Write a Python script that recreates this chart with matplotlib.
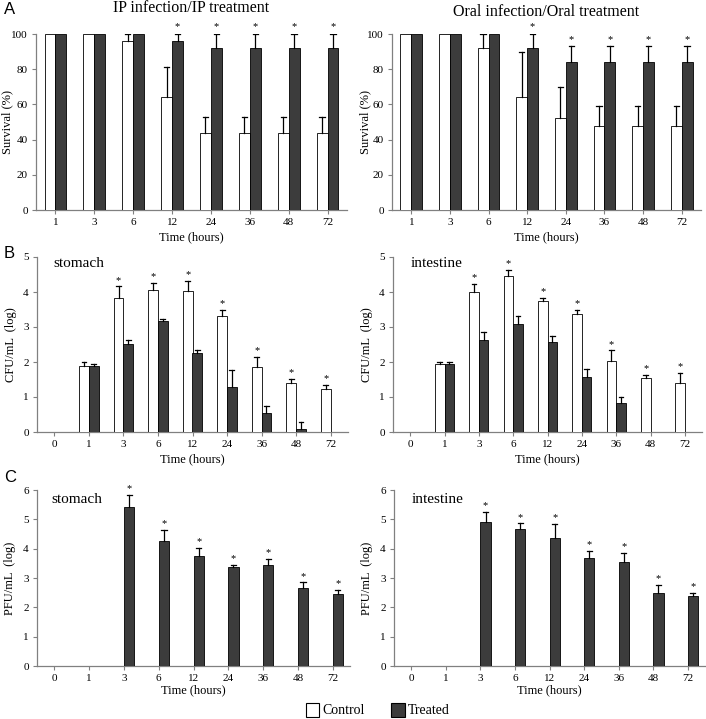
import matplotlib
matplotlib.use("Agg")
import matplotlib.pyplot as plt
import numpy as np

plt.rcParams['font.family'] = ['Liberation Serif', 'DejaVu Serif']

# ---- data ----
surv_times = ["1", "3", "6", "12", "24", "36", "48", "72"]
ip_control = [100, 100, 96, 64, 44, 44, 44, 44]
ip_control_err = [0, 0, 4, 17, 9, 9, 9, 9]
ip_treated = [100, 100, 100, 96, 92, 92, 92, 92]
ip_treated_err = [0, 0, 0, 4, 8, 8, 8, 8]
ip_sig = [False, False, False, True, True, True, True, True]

oral_control = [100, 100, 92, 64, 52, 48, 48, 48]
oral_control_err = [0, 0, 8, 26, 18, 11, 11, 11]
oral_treated = [100, 100, 100, 92, 84, 84, 84, 84]
oral_treated_err = [0, 0, 0, 8, 9, 9, 9, 9]
oral_sig = [False, False, False, True, True, True, True, True]

cfu_times = ["0", "1", "3", "6", "12", "24", "36", "48", "72"]
cfu_st_control = [0, 1.88, 3.84, 4.07, 4.02, 3.32, 1.86, 1.40, 1.23]
cfu_st_control_err = [0, 0.12, 0.32, 0.20, 0.30, 0.18, 0.29, 0.12, 0.12]
cfu_st_treated = [0, 1.90, 2.51, 3.18, 2.25, 1.30, 0.54, 0.10, 0]
cfu_st_treated_err = [0, 0.05, 0.11, 0.04, 0.09, 0.48, 0.21, 0.18, 0]
cfu_st_sig = [False, False, True, True, True, True, True, True, True]

cfu_in_control = [0, 1.93, 3.99, 4.45, 3.73, 3.36, 2.02, 1.55, 1.39]
cfu_in_control_err = [0, 0.07, 0.25, 0.17, 0.11, 0.13, 0.31, 0.08, 0.31]
cfu_in_treated = [0, 1.95, 2.63, 3.10, 2.58, 1.58, 0.83, 0, 0]
cfu_in_treated_err = [0, 0.05, 0.24, 0.22, 0.17, 0.22, 0.17, 0, 0]
cfu_in_sig = [False, False, True, True, True, True, True, True, True]

pfu_times = ["0", "1", "3", "6", "12", "24", "36", "48", "72"]
pfu_st_treated = [0, 0, 5.42, 4.27, 3.75, 3.39, 3.46, 2.67, 2.44]
pfu_st_treated_err = [0, 0, 0.40, 0.36, 0.27, 0.06, 0.20, 0.18, 0.14]
pfu_in_treated = [0, 0, 4.91, 4.68, 4.35, 3.67, 3.53, 2.48, 2.40]
pfu_in_treated_err = [0, 0, 0.35, 0.18, 0.48, 0.25, 0.31, 0.28, 0.10]
pfu_sig = [False, False, True, True, True, True, True, True, True]

W, H = 706, 719
fig = plt.figure(figsize=(W / 100, H / 100), dpi=100)

def ax_at(x0, y0, x1, y1):
    return fig.add_axes([x0 / W, 1 - y1 / H, (x1 - x0) / W, (y1 - y0) / H])

DARK = '#3c3c3c'
SPINE = '#808080'
BW = 0.28

def style(ax, ymax, ystep, labels, ylabel, ylab_px, xlabpad=3):
    n = len(labels)
    ax.set_xlim(-0.5, n - 0.5)
    ax.set_ylim(0, ymax)
    ax.set_yticks(np.arange(0, ymax + 0.001, ystep))
    ax.set_xticks(np.arange(n))
    ax.set_xticklabels(labels)
    for s in ['top', 'right']:
        ax.spines[s].set_visible(False)
    for s in ['left', 'bottom']:
        ax.spines[s].set_color(SPINE)
        ax.spines[s].set_linewidth(0.9)
    ax.tick_params(axis='both', labelsize=8, color=SPINE, width=0.8, length=3, pad=3)
    ax.set_ylabel(ylabel, fontsize=9)
    # ylab_px: right edge of the rotated label, in figure pixels
    bb = ax.get_position()
    x_ax = (ylab_px / W - bb.x0) / bb.width
    ax.yaxis.set_label_coords(x_ax, 0.5)
    ax.set_xlabel("Time (hours)", fontsize=9, labelpad=xlabpad)
    ax.yaxis.set_major_formatter(matplotlib.ticker.FormatStrFormatter('%d'))

def err(ax, x, v, e, cap):
    for xi, vi, ei in zip(x, v, e):
        if ei > 0:
            ax.plot([xi, xi], [vi, vi + ei], color='black', lw=0.9, zorder=4)
            ax.plot([xi - cap / 2, xi + cap / 2], [vi + ei, vi + ei], color='black', lw=0.9, zorder=4)

def stars(ax, x, tops, sig, off):
    for xi, t, s in zip(x, tops, sig):
        if s:
            ax.text(xi, t + off, '*', ha='center', va='bottom', fontsize=7.5)

def grouped(ax, ctrl, ctrl_e, trt, trt_e, sig, star_on, off):
    x = np.arange(len(ctrl))
    xc = x - BW / 2
    xt = x + BW / 2
    ax.bar(xc, ctrl, BW, color='white', edgecolor='black', linewidth=0.6, zorder=3)
    ax.bar(xt, trt, BW, color=DARK, edgecolor='black', linewidth=0.6, zorder=3)
    err(ax, xc, ctrl, ctrl_e, BW * 0.5)
    err(ax, xt, trt, trt_e, BW * 0.5)
    if star_on == 'treated':
        stars(ax, xt, np.array(trt) + np.array(trt_e), sig, off)
    else:
        stars(ax, xc, np.array(ctrl) + np.array(ctrl_e), sig, off)

# Panel A
a1 = ax_at(36, 34, 347, 210)
grouped(a1, ip_control, ip_control_err, ip_treated, ip_treated_err, ip_sig, 'treated', 1.5)
style(a1, 100, 20, surv_times, "Survival (%)", 13)
a1.set_title("IP infection/IP treatment", fontsize=11.5, pad=16)

a2 = ax_at(392, 34, 701, 210)
grouped(a2, oral_control, oral_control_err, oral_treated, oral_treated_err, oral_sig, 'treated', 1.5)
style(a2, 100, 20, surv_times, "Survival (%)", 371)
a2.set_title("Oral infection/Oral treatment", fontsize=11.5, pad=13)

# Panel B
b1 = ax_at(37, 257, 348, 432)
grouped(b1, cfu_st_control, cfu_st_control_err, cfu_st_treated, cfu_st_treated_err, cfu_st_sig, 'control', 0.05)
style(b1, 5, 1, cfu_times, "CFU/mL  (log)", 17)
b1.text(-0.03, 5.0, "stomach", fontsize=11, va='top', ha='left')

b2 = ax_at(393, 257, 702, 432)
grouped(b2, cfu_in_control, cfu_in_control_err, cfu_in_treated, cfu_in_treated_err, cfu_in_sig, 'control', 0.05)
style(b2, 5, 1, cfu_times, "CFU/mL  (log)", 373)
b2.text(0.0, 5.0, "intestine", fontsize=11, va='top', ha='left')

# Panel C
def single(ax, trt, trt_e, sig):
    x = np.arange(len(trt))
    bw = 0.3
    xt = x + bw / 2
    ax.bar(xt, trt, bw, color=DARK, edgecolor='black', linewidth=0.6, zorder=3)
    err(ax, xt, trt, trt_e, bw * 0.5)
    stars(ax, xt, np.array(trt) + np.array(trt_e), sig, 0.06)

c1 = ax_at(37, 490, 350, 666)
single(c1, pfu_st_treated, pfu_st_treated_err, pfu_sig)
style(c1, 6, 1, pfu_times, "PFU/mL  (log)", 16, xlabpad=1)
c1.text(-0.1, 5.9, "stomach", fontsize=11, va='top', ha='left')

c2 = ax_at(394, 490, 705, 666)
single(c2, pfu_in_treated, pfu_in_treated_err, pfu_sig)
style(c2, 6, 1, pfu_times, "PFU/mL  (log)", 373, xlabpad=1)
c2.text(0.0, 5.9, "intestine", fontsize=11, va='top', ha='left')

# Panel letters
for lab, y in [("A", 9), ("B", 254), ("C", 477)]:
    fig.text(4 / W, 1 - y / H, lab, fontsize=12, family='Liberation Sans', va='center', ha='left')

# Legend
from matplotlib.patches import Rectangle
fig.patches.append(Rectangle((306 / W, 1 - 717 / H), 13 / W, 14 / H, transform=fig.transFigure,
                             facecolor='white', edgecolor='black', linewidth=0.8))
fig.text(322 / W, 1 - 711 / H, "Control", fontsize=10, va='center', ha='left')
fig.patches.append(Rectangle((391 / W, 1 - 717 / H), 14 / W, 14 / H, transform=fig.transFigure,
                             facecolor=DARK, edgecolor='black', linewidth=0.8))
fig.text(408 / W, 1 - 711 / H, "Treated", fontsize=10, va='center', ha='left')

fig.savefig("out.png", dpi=100)
